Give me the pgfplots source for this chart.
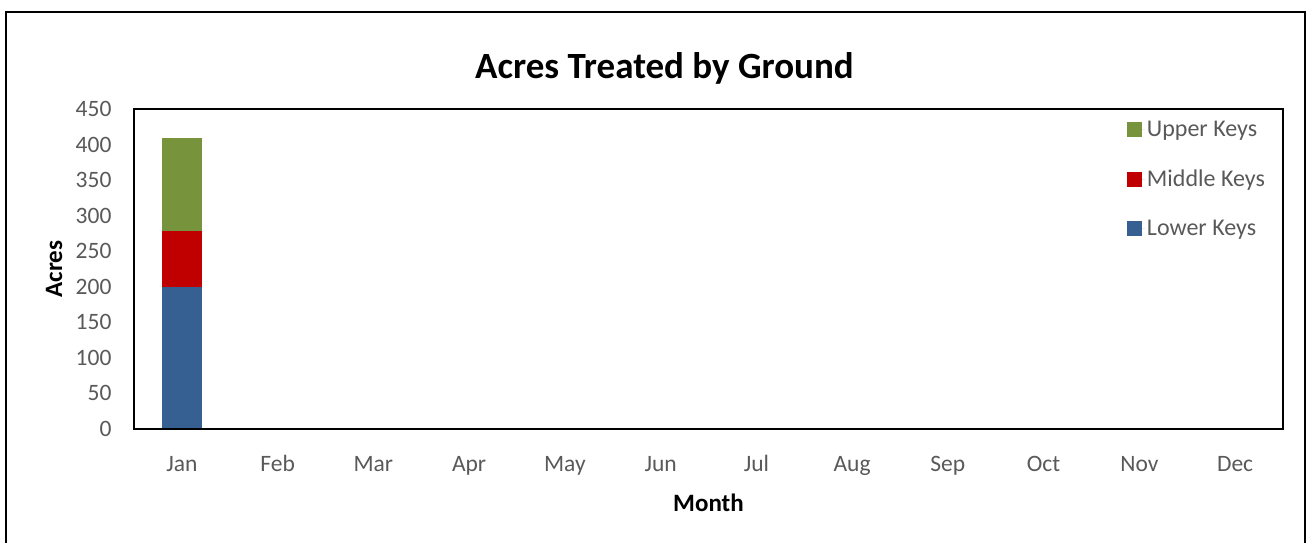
\documentclass[border=0pt]{standalone}
\usepackage{pgfplots}
\pgfplotsset{compat=1.18}
\usepackage{fontspec}
\setmainfont{Carlito}
\definecolor{lowerc}{HTML}{376092}
\definecolor{middlec}{HTML}{C00000}
\definecolor{upperc}{HTML}{77933C}
\definecolor{tickc}{HTML}{595959}
\definecolor{baseline}{HTML}{BFBFBF}

\begin{document}
\begin{tikzpicture}
\useasboundingbox (-134pt,-114pt) rectangle (1176pt,429pt);
\draw[black, line width=2pt] (-128pt,-130pt) rectangle (1171pt,417pt);
\begin{axis}[
  scale only axis,
  width=1149pt, height=320pt,
  ybar stacked, bar width=40pt,
  xmin=-0.5, xmax=11.5,
  ymin=0, ymax=450,
  xtick={0,...,11},
  xticklabels={Jan,Feb,Mar,Apr,May,Jun,Jul,Aug,Sep,Oct,Nov,Dec},
  ytick={0,50,...,450},
  major tick length=0pt,
  axis line style={black, line width=1.5pt},
  tick label style={font=\fontsize{23.5}{27}\selectfont, text=tickc},
  /pgf/number format/assume math mode=true,
  yticklabel style={xshift=-19pt},
  xticklabel style={anchor=center, text height=16pt, text depth=5pt, yshift=-37pt},
  title={\textbf{Acres Treated by Ground}},
  title style={font=\fontsize{37}{42}\selectfont, at={(axis description cs:0.5,1)}, anchor=center, yshift=35pt, xshift=-44pt},
  xlabel={\textbf{Month}},
  xlabel style={font=\fontsize{25}{29}\selectfont, at={(axis description cs:0.5,0)}, anchor=center, yshift=-74pt},
  ylabel={\textbf{Acres}},
  ylabel style={font=\fontsize{25}{29}\selectfont, at={(axis description cs:0,0.5)}, anchor=center, yshift=80pt},
  legend style={draw=none, fill=none, at={(axis description cs:0.864,0.969)}, anchor=north west, inner sep=0pt,
    font=\fontsize{24}{28}\selectfont, text=tickc, row sep=28pt},
  legend cell align=left,
  reverse legend,
  legend image code/.code={\fill[#1] (0pt,-7.5pt) rectangle (15pt,7.5pt); \path (0pt,0pt) -- (18pt,0pt);},
]
\addplot[fill=lowerc, draw=none] coordinates {(0,199)};
\addlegendentry{Lower Keys}
\addplot[fill=middlec, draw=none] coordinates {(0,80)};
\addlegendentry{Middle Keys}
\addplot[fill=upperc, draw=none] coordinates {(0,130)};
\addlegendentry{Upper Keys}
\end{axis}
\draw[baseline, line width=2pt] (0pt,0pt) -- (1149pt,0pt);
\end{tikzpicture}
\end{document}
